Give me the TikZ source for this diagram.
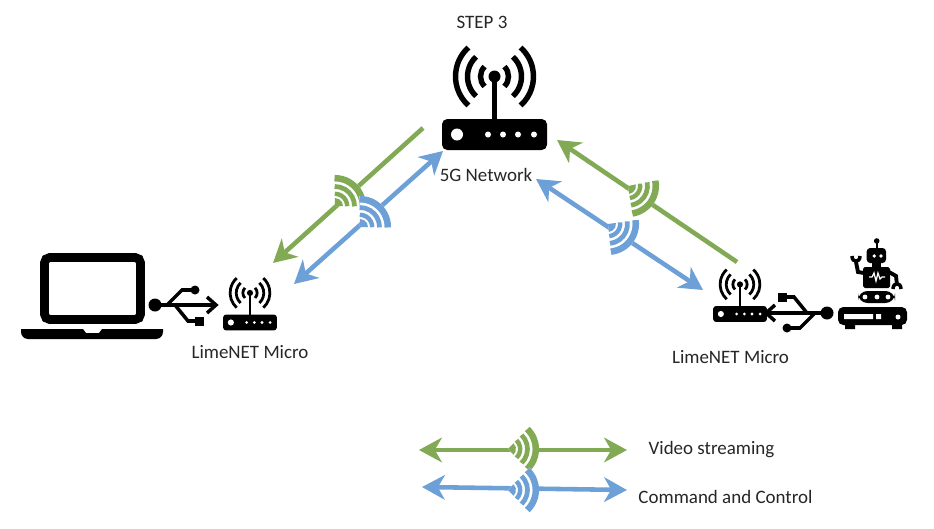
\documentclass[tikz,border=0pt]{standalone}
\usepackage{fontspec}
\setmainfont{Carlito}
\usepackage{tikz}
\usetikzlibrary{positioning,arrows.meta,calc}

% one unit is 1/50 cm, so icons are written in reference pixels
\definecolor{vidgreen}{RGB}{130,170,85}
\definecolor{ctrlblue}{RGB}{108,160,215}

\tikzset{
  pics/router/.style={code={
    \begin{scope}[scale=#1]
      \fill[black, rounded corners=#1*3pt] (-52.5,-15.5) rectangle (52.5,15.5);
      \fill[white] (-37.5,0) circle (6);
      \foreach \px in {-6.5,8.5,23.5,39.5} \fill[white] (\px,0) circle (3);
      \draw[black, line width=#1*2.6pt] (0,-15) -- (0,-58);
      \fill[black] (0,-58) circle (6);
      \foreach \rad/\spn in {14/45,27/47,39/48} {
        \draw[black, line width=#1*3.1pt] ($(0,-58)+(\spn:\rad)$) arc (\spn:-\spn:\rad);
        \draw[black, line width=#1*3.1pt] ($(0,-58)+(180-\spn:\rad)$) arc (180-\spn:180+\spn:\rad);
      }
    \end{scope}}},
  pics/usb/.style={code={
    \draw[black, line width=2pt] (0,0) -- (60,0);
    \draw[black, line width=2pt] (52,8) -- (61,0) -- (52,-8);
    \fill[black] (0,0) circle (6.5);
    \draw[black, line width=2pt] (12,0) -- (27,-15) -- (38,-15);
    \fill[black] (40,-15) circle (4.5);
    \draw[black, line width=2pt] (20,0) -- (33,16) -- (42,16);
    \fill[black] (40,11.5) rectangle (49,20.5);
  }},
  pics/wave/.style={code={
    \fill[white] (0,0) -- (46:31) arc (46:-46:31) -- cycle;
    \fill[#1] (0,0) -- (46:8) arc (46:-46:8) -- cycle;
    \foreach \rad/\wid in {12.2/2.5,19.5/2.7,27.8/3.7} {
      \draw[#1, line width=\wid pt] (46:\rad) arc (46:-46:\rad);
    }
  }},
  lnk/.style={line width=2.6pt, -{Stealth[length=13pt,width=14pt,inset=4pt]}},
  lnkb/.style={lnk, {Stealth[length=13pt,width=14pt,inset=4pt]}-{Stealth[length=13pt,width=14pt,inset=4pt]}},
  lbl/.style={font=\fontsize{10.8}{12}\selectfont, text=black!85, inner sep=0pt}
}

\begin{document}
\begin{tikzpicture}[x=0.02cm, y=-0.02cm]
  \useasboundingbox (0,0) rectangle (934,528);

  % end points of the links
  \coordinate (gla) at (423,128);
  \coordinate (glb) at (273,263);
  \coordinate (bla) at (294,284);
  \coordinate (blb) at (443,151);
  \coordinate (gra) at (737,262);
  \coordinate (grb) at (557,140);
  \coordinate (bra) at (536,179);
  \coordinate (brb) at (703,290);
  \coordinate (gka) at (419,450);
  \coordinate (gkb) at (627,450);
  \coordinate (bka) at (422,487);
  \coordinate (bkb) at (627,490);

  \draw[lnk, vidgreen]  (gla) -- (glb);
  \draw[lnkb, ctrlblue] (bla) -- (blb);
  \draw[lnk, vidgreen]  (gra) -- (grb);
  \draw[lnkb, ctrlblue] (bra) -- (brb);
  \draw[lnkb, vidgreen] (gka) -- (gkb);
  \draw[lnkb, ctrlblue] (bka) -- (bkb);

  % radio waves on the links
  \pic[rotate=45]  at (335,206) {wave=vidgreen};
  \pic[rotate=45]  at (360,227) {wave=ctrlblue};
  \pic[rotate=-35] at (628,186) {wave=vidgreen};
  \pic[rotate=-38] at (608,224) {wave=ctrlblue};
  \pic at (508,449) {wave=vidgreen};
  \pic at (508,490) {wave=ctrlblue};

  % labels
  \node[lbl] (step)    at (482,22)  {STEP 3};
  \node[lbl] (net)     at (486,175) {5G Network};
  \node[lbl] (limel)   at (250,352) {LimeNET Micro};
  \node[lbl] (limer)   at (730.5,357) {LimeNET Micro};
  \node[lbl] (video)   at (711.5,450) {Video streaming};
  \node[lbl] (cmd)     at (725.5,497) {Command and Control};

  % routers
  \pic at (494.5,134.5) {router=1};
  \pic at (250,322.5)   {router=0.51};
  \pic at (740,314)     {router=0.51};

  % usb
  \pic at (155,305) {usb};
  \pic[rotate=180] at (827,313) {usb};

  % laptop
  \draw[black, line width=5pt, rounded corners=3pt] (44.5,257.5) rectangle (140.5,319.5);
  \fill[black] (21,329) -- (83,329) -- (86,333) -- (99,333) -- (102,329) -- (163,329)
    [rounded corners=4pt] -- (163,339) -- (21,339) [sharp corners] -- cycle;

  % robot on its box
  \fill[black] (876.7,241) circle (2.8);
  \draw[black, line width=1.3pt] (876.7,241) -- (876.7,249);
  \fill[black, rounded corners=2pt] (866.7,248) rectangle (886,263);
  \fill[white] (874.3,256) circle (1.9) (881,256) circle (1.9);
  \fill[black] (872,262) rectangle (881,268);
  \fill[black, rounded corners=1pt] (863,267) rectangle (890,288);
  \draw[white, line width=0.7pt] (869,277) -- (872,277) -- (874,273) -- (876,281) -- (878,273) -- (880,279) -- (882,277) -- (885,277);
  \draw[black, line width=2.2pt] (864,273) -- (858,272) -- (856,262);
  \draw[black, line width=2pt] (852,256) .. controls (852,263) and (860,263) .. (860,256);
  \draw[black, line width=2.2pt] (889,272) -- (896,276) -- (897,285);
  \draw[black, line width=2pt] (893,289) .. controls (893,282) and (901,282) .. (901,289);
  \fill[black, rounded corners=5.5pt] (858,291) rectangle (895,303);
  \fill[white] (865,297) circle (2.4) (877,297) circle (2.4) (888,297) circle (2.4);
  \fill[black, rounded corners=3pt] (838,307) rectangle (907,325);
  \fill[black] (845,324) rectangle (855,329) (892,324) rectangle (902,329);
  \fill[white] (844,314) rectangle (873,319) (876,314) rectangle (881,319);
  \fill[white] (898,317) circle (2.5);
\end{tikzpicture}
\end{document}
